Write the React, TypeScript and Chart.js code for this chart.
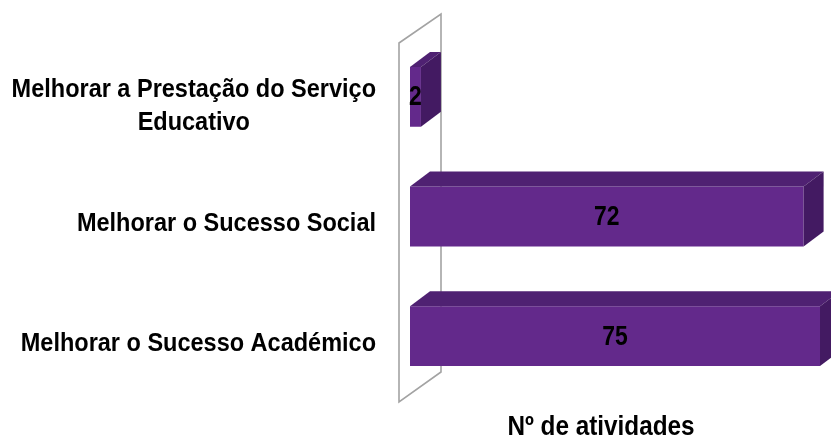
import React, { useEffect, useRef } from "react";
import { Chart, registerables } from "chart.js";

Chart.register(...registerables);

const categories: string[][] = [
  ["Melhorar a Prestação do Serviço", "Educativo"],
  ["Melhorar o Sucesso Social"],
  ["Melhorar o Sucesso Académico"],
];
const values: number[] = [2, 72, 75];
const axisTitle = "Nº de atividades";

const FONT = "'Liberation Sans', Arial, sans-serif";
const FRONT = "#63298b";
const TOP = "#4f2172";
const SIDE = "#431a62";
const DX = 20;
const DY = -15;

function drawText(ctx: any, text: string, x: number, y: number, font: string, sx: number) {
  ctx.save();
  ctx.font = font;
  ctx.textAlign = "center";
  ctx.textBaseline = "middle";
  ctx.translate(x, y);
  ctx.scale(sx, 1);
  ctx.fillText(text, 0, 0);
  ctx.restore();
}

const threeD = {
  id: "threeD",
  beforeDatasetsDraw(chart: any) {
    const { ctx, chartArea } = chart;
    const l = chartArea.left - 11;
    const r = chartArea.left + 31;
    const t = chartArea.top + 6;
    const b = chartArea.bottom + 6;
    ctx.save();
    ctx.strokeStyle = "#a3a3a3";
    ctx.lineWidth = 1.6;
    ctx.beginPath();
    ctx.moveTo(l, t);
    ctx.lineTo(r, t - 29);
    ctx.lineTo(r, b - 30);
    ctx.lineTo(l, b);
    ctx.closePath();
    ctx.stroke();
    ctx.restore();
  },
  afterDatasetsDraw(chart: any) {
    const { ctx, chartArea } = chart;
    const meta = chart.getDatasetMeta(0);
    ctx.save();
    ctx.fillStyle = "#000";
    meta.data.forEach((bar: any, i: number) => {
      const p = bar.getProps(["x", "y", "base", "height"], true);
      const top = p.y - p.height / 2;
      const bot = p.y + p.height / 2;
      const x0 = p.base;
      const x1 = p.x;
      ctx.fillStyle = TOP;
      ctx.beginPath();
      ctx.moveTo(x0, top);
      ctx.lineTo(x1, top);
      ctx.lineTo(x1 + DX, top + DY);
      ctx.lineTo(x0 + DX, top + DY);
      ctx.closePath();
      ctx.fill();
      ctx.fillStyle = SIDE;
      ctx.beginPath();
      ctx.moveTo(x1, top);
      ctx.lineTo(x1 + DX, top + DY);
      ctx.lineTo(x1 + DX, bot + DY);
      ctx.lineTo(x1, bot);
      ctx.closePath();
      ctx.fill();
      ctx.fillStyle = "#000";
      drawText(ctx, String(values[i]), (x0 + x1) / 2, p.y + 1, `bold 27px ${FONT}`, 0.85);
    });
    // category labels
    const yScale = chart.scales.y;
    const labelFont = `bold 25px ${FONT}`;
    const SX = 0.94;
    ctx.font = labelFont;
    categories.forEach((lines, i) => {
      const yc = yScale.getPixelForValue(i) + (lines.length > 1 ? 10 : 8);
      const lh = 33;
      const rightX = chartArea.left - 34;
      const w0 = ctx.measureText(lines[0]).width * SX;
      const cx = rightX - w0 / 2;
      lines.forEach((ln, j) => {
        const y = yc + (j - (lines.length - 1) / 2) * lh;
        drawText(ctx, ln, cx, y, labelFont, SX);
      });
    });
    // axis title
    drawText(ctx, axisTitle, (chartArea.left + chartArea.right) / 2 - 14, chartArea.bottom + 32, `bold 27px ${FONT}`, 0.9);
    ctx.restore();
  },
};

export default function App() {
  const ref = useRef<HTMLCanvasElement>(null);
  useEffect(() => {
    if (!ref.current) return;
    const chart = new Chart(ref.current, {
      type: "bar",
      data: {
        labels: categories.map((c) => c.join(" ")),
        datasets: [
          {
            data: values,
            backgroundColor: FRONT,
            borderWidth: 0,
            categoryPercentage: 0.5,
            barPercentage: 1.0,
          },
        ],
      },
      options: {
        indexAxis: "y",
        animation: false,
        responsive: true,
        maintainAspectRatio: false,
        layout: { padding: { left: 410, right: 11, top: 37, bottom: 48 } },
        plugins: { legend: { display: false }, tooltip: { enabled: false } },
        scales: {
          x: { display: false, min: 0, max: 75 },
          y: { display: false },
        },
      },
      plugins: [threeD],
    });
    return () => chart.destroy();
  }, []);
  return (
    <div style={{ position: "fixed", left: 0, top: 0, width: 831, height: 444, background: "#fff" }}>
      <canvas ref={ref} />
    </div>
  );
}
